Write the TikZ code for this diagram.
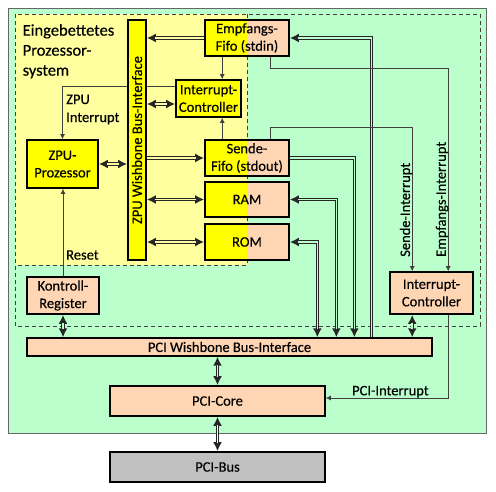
\documentclass[tikz,border=0pt]{standalone}
\usepackage{fontspec}
\usepackage{graphicx}
\setmainfont{Carlito}[FakeBold=0.3]
\usetikzlibrary{arrows.meta,calc}
\pgfdeclarelayer{back}
\pgfdeclarelayer{mid}
\pgfsetlayers{back,mid,main}
\definecolor{bggreen}{RGB}{187,255,204}
\definecolor{regyellow}{RGB}{255,255,160}
\definecolor{boxyellow}{RGB}{255,255,0}
\definecolor{salmon}{RGB}{255,214,180}
\definecolor{busgray}{RGB}{192,192,192}
\definecolor{linegray}{RGB}{64,64,64}
\newcommand\lblfont{\fontsize{14.5}{17.5}\selectfont}
\newcommand\titlefont{\fontsize{16.5}{20}\selectfont}
\tikzset{
  box/.style={draw=black, line width=1.6pt, inner sep=1pt, align=center, font=\lblfont},
  halfy/.style={fill=salmon, path picture={\fill[boxyellow] (path picture bounding box.north west) rectangle (path picture bounding box.south);}},
  dblbase/.style={draw=black!85, line width=3.2pt},
  dd/.style={dblbase, {Latex[length=9pt,width=9pt]}-{Latex[length=9pt,width=9pt]}, postaction={draw=#1, line width=1.6pt, -, shorten <=8.5pt, shorten >=8.5pt}},
  de/.style={dblbase, -{Latex[length=9pt,width=9pt]}, postaction={draw=#1, line width=1.6pt, -, shorten >=8.5pt}},
  ds/.style={dblbase, {Latex[length=9pt,width=9pt]}-, postaction={draw=#1, line width=1.6pt, -, shorten <=8.5pt}},
  sig/.style={draw=linegray, line width=0.8pt, -{Latex[length=5pt,width=5pt]}},
  lbl/.style={font=\lblfont, inner sep=0pt},
  dashline/.style={draw=linegray, line width=0.8pt, dash pattern=on 4pt off 3pt},
}
\begin{document}
\begin{tikzpicture}[x=1pt,y=-1pt]
\useasboundingbox (0,0) rectangle (496,492);
\begin{pgfonlayer}{back}
\fill[white] (0,0) rectangle (496,492);
\filldraw[fill=bggreen, draw=black!60, line width=0.8pt] (8,8) rectangle (486,433);
\fill[regyellow] (15,14) rectangle (247,265);
\draw[dashline] (247,14) -- (247,265) -- (15,265);
\draw[dashline] (15,14) rectangle (480,326);
\end{pgfonlayer}
\node[lbl, font=\titlefont, anchor=north west, align=left] (title) at (22.5,24) {Eingebettetes\\Prozessor-\\system};
% boxes
\node[box, fill=boxyellow, minimum width=18pt, minimum height=240pt, inner sep=0pt] (zbus) at (137,140) {\rotatebox{90}{ZPU Wishbone Bus-Interface}};
\node[box, halfy, minimum width=84pt, minimum height=36pt] (emp) at (247,38) {Empfangs-\\Fifo (stdin)};
\node[box, fill=boxyellow, minimum width=65pt, minimum height=37pt] (ic1) at (208.5,98.5) {Interrupt-\\Controller};
\node[box, fill=boxyellow, minimum width=71pt, minimum height=48pt] (zpu) at (62.5,164) {ZPU-\\Prozessor};
\node[box, halfy, minimum width=84pt, minimum height=36pt] (sende) at (247,158) {Sende-\\Fifo (stdout)};
\node[box, halfy, minimum width=84pt, minimum height=35pt] (ram) at (247,199.5) {RAM};
\node[box, halfy, minimum width=84pt, minimum height=36pt] (rom) at (247,242) {ROM};
\node[box, fill=salmon, minimum width=72pt, minimum height=37pt] (kr) at (63,295.5) {Kontroll-\\Register};
\node[box, fill=salmon, line width=1.3pt, minimum width=405pt, minimum height=18pt, inner sep=0pt] (pciwb) at (229.5,347) {PCI Wishbone Bus-Interface};
\node[box, fill=salmon, minimum width=215pt, minimum height=30pt] (core) at (217.5,401) {PCI-Core};
\node[box, fill=busgray, minimum width=215pt, minimum height=30pt] (bus) at (217.5,467) {PCI-Bus};
\node[box, fill=salmon, minimum width=83pt, minimum height=42pt] (ic2) at (431.5,293) {Interrupt-\\Controller};
% helper coordinates
\coordinate (e1) at ([xshift=18pt]emp.south west);
\coordinate (s1) at ([xshift=18pt]sende.north west);
\coordinate (e2) at ([xshift=66pt]emp.south west);
\coordinate (e2b) at ([xshift=66pt,yshift=-12pt]emp.south west);
\coordinate (s2) at ([xshift=66pt]sende.north west);
\coordinate (s2b) at ([xshift=66pt,yshift=12pt]sende.north west);
\coordinate (icA) at ([xshift=23pt]ic2.north west);
\coordinate (icB) at ([xshift=59pt]ic2.north west);
\coordinate (icC) at ([xshift=23pt]ic2.south west);
\coordinate (icD) at ([xshift=59pt]ic2.south west);
\coordinate (w1) at ([xshift=291pt]pciwb.north west);
\coordinate (w2) at ([xshift=310pt]pciwb.north west);
\coordinate (w3) at ([xshift=328pt]pciwb.north west);
\coordinate (w4) at ([xshift=345pt]pciwb.north west);
\coordinate (ic1a) at ([yshift=-5.5pt]ic1.west);
\coordinate (ic1b) at ([yshift=12.5pt]ic1.west);
\coordinate (coreI) at ([yshift=3pt]core.east);
% connectors inside the embedded system
\draw[de=regyellow] (emp.west) -- (emp.west -| zbus.east);
\draw[sig] (e1) -- (e1 |- ic1.north);
\draw[dd=regyellow] (ic1a) -- (ic1a -| zbus.east);
\begin{pgfonlayer}{mid}
\draw[sig] (ic1b) -| (zpu.north);
\end{pgfonlayer}
\draw[sig] (s1) -- (s1 |- ic1.south);
\draw[dd=regyellow] (zpu.east) -- (zpu.east -| zbus.west);
\draw[de=regyellow] (sende.west -| zbus.east) -- (sende.west);
\draw[dd=regyellow] (ram.west -| zbus.east) -- (ram.west);
\draw[dd=regyellow] (rom.west -| zbus.east) -- (rom.west);
\draw[sig] (kr.north) -- (kr.north |- zpu.south);
% connectors to the PCI side
\draw[dd=bggreen] (kr.south) -- (kr.south |- pciwb.north);
\draw[dd=bggreen] (core.north) -- (core.north |- pciwb.south);
\draw[dd=white] (core.south) -- (bus.north);
\draw[dd=bggreen] (icC) -- (icC |- pciwb.north);
\draw[sig] (icD) |- (coreI);
\draw[ds=bggreen] (emp.east) -| (w4);
\draw[de=bggreen] (sende.east) -| (w3);
\draw[dd=bggreen] (ram.east) -| (w2);
\draw[dd=bggreen] (rom.east) -| (w1);
\draw[sig] (e2) -- (e2b) -| (icB);
\draw[sig] (s2) -- (s2b) -| (icA);
% labels
\node[lbl, anchor=north west, align=left] (zpuint) at (66,94.5) {ZPU\\[0.5pt]Interrupt};
\node[lbl, anchor=base west] (reset) at (66,259.6) {Reset};
\node[lbl, anchor=base] (pciint) at (390.4,395.3) {PCI-Interrupt};
\node[lbl, rotate=90, anchor=south west] (sint) at (412.5,257) {Sende-Interrupt};
\node[lbl, rotate=90, anchor=south west] (eint) at (448.5,257) {Empfangs-Interrupt};
\end{tikzpicture}
\end{document}
